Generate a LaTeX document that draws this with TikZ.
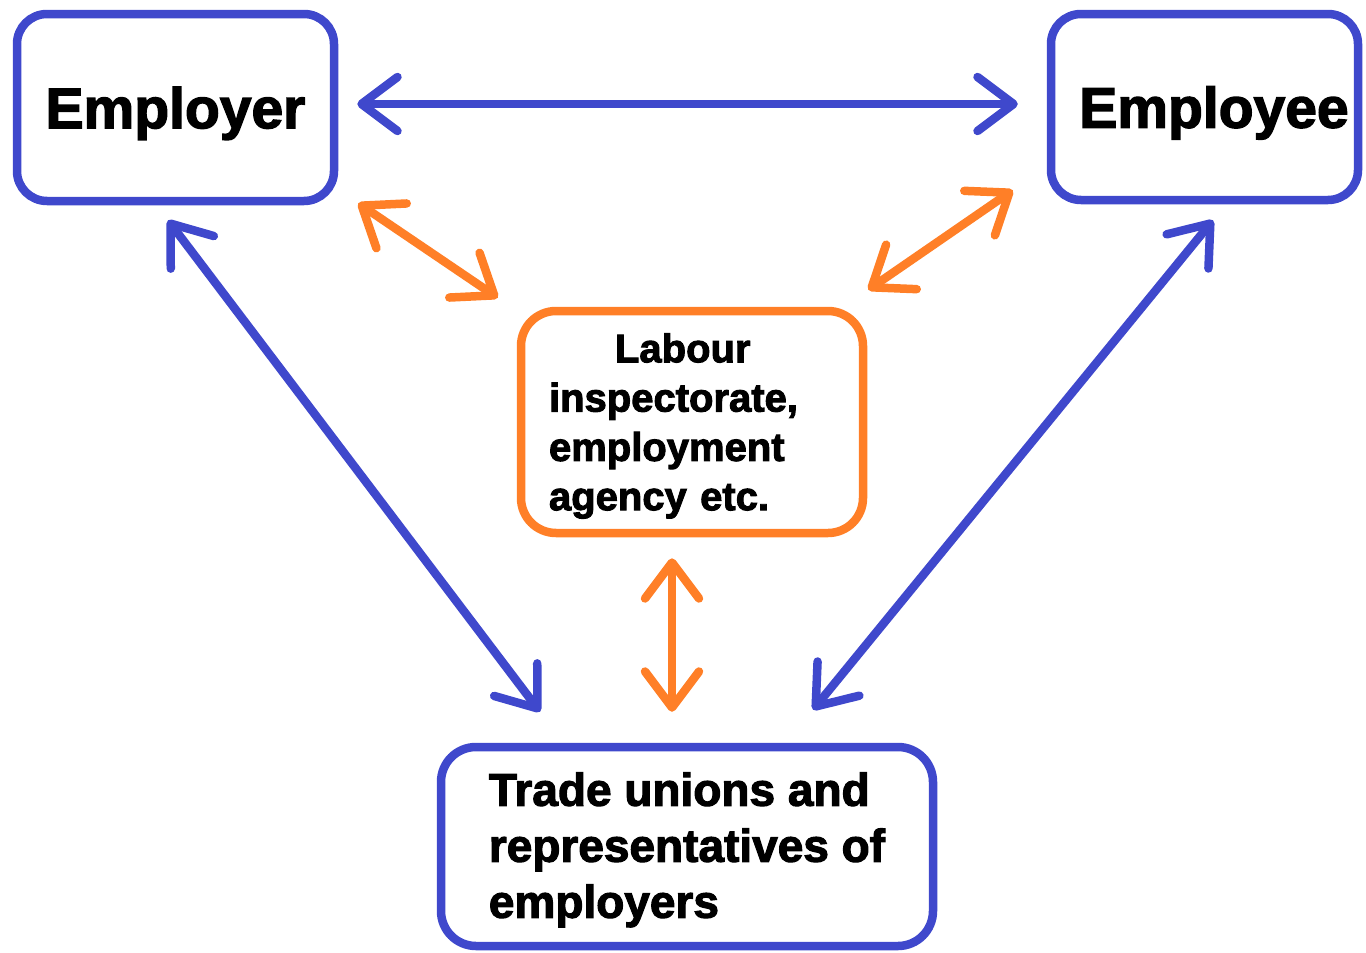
\documentclass[tikz,border=0pt]{standalone}
\usepackage{fontspec}
\setmainfont{Liberation Sans}[BoldFeatures={FakeBold=2.4}]
\usetikzlibrary{arrows.meta,calc}
\definecolor{paintblue}{RGB}{63,72,204}
\definecolor{paintorange}{RGB}{255,127,39}
\begin{document}
\begin{tikzpicture}[x=1pt,y=-1pt,
  box/.style={line width=8.5pt, inner sep=0pt, text=black},
  party/.style={box, draw=paintblue, rounded corners=30pt,
    font=\bfseries\fontsize{57}{68}\selectfont, text depth=0pt},
  agency/.style={box, draw=paintorange, rounded corners=35pt, align=left,
    font=\bfseries\fontsize{40}{49.3}\selectfont},
  unions/.style={box, draw=paintblue, rounded corners=35pt, align=left,
    font=\bfseries\fontsize{46}{56}\selectfont},
  link/.style={line width=8.5pt, line cap=round, line join=round,
    {Straight Barb[length=36pt,width=54pt,round]}-{Straight Barb[length=36pt,width=54pt,round]}},
]
\useasboundingbox (0,0) rectangle (1366,953);

% the four parties
\node[party, minimum width=317pt, minimum height=187pt] (employer) at (175.5,107.5) {Employer};
\node[party, minimum width=307pt, minimum height=186pt] (employee) at (1204.5,107) {\hspace*{19pt}Employee};
\node[agency, minimum width=342pt, minimum height=222pt, text width=286pt, inner xsep=28pt]
  (labour) at (692,422)
  {\rule{0pt}{37pt}\hspace*{66pt}Labour\\inspectorate,\\employment\\agency etc.};
\node[unions, minimum width=492pt, minimum height=199pt]
  (trade) at (687,846.5)
  {\rule{0pt}{40pt}Trade unions and\\representatives of\\employers};

% relations between the parties
\draw[link, paintblue] ($(employer.east)+(19,-3.5)$) -- ($(employee.west)+(-29,-3)$);
\draw[link, paintblue] ($(employer.south)+(-7.5,15)$) -- ($(trade.north)+(-147,-31)$);
\draw[link, paintblue] ($(employee.south)+(8.5,16)$) -- ($(trade.north)+(126,-33)$);

% relations with the authorities
\draw[link, paintorange] ($(employer.south east)+(20,-2)$) -- ($(labour.north west)+(-19,-9)$);
\draw[link, paintorange] ($(employee.south west)+(-34,-14)$) -- ($(labour.north east)+(1,-17)$);
\draw[link, paintorange] ($(labour.south)+(-20,21)$) -- ($(trade.north)+(-15,-31)$);
\end{tikzpicture}
\end{document}
